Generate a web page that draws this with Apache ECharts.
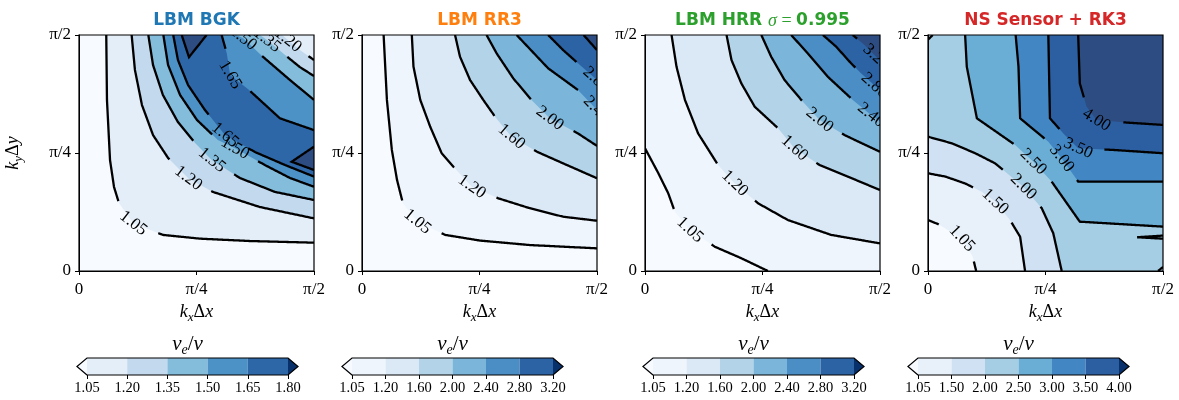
<!DOCTYPE html>
<html><head><meta charset="utf-8">
<script src="https://cdn.jsdelivr.net/npm/echarts@6/dist/echarts.min.js"></script>
<style>html,body{margin:0;padding:0;background:#fff}#c{width:1179px;height:400px}</style>
</head><body><div id="c"></div>
<script>
// ---------------- DATA ----------------
// axis coordinates are k*dx as a fraction of pi/2  (0 .. 1)
const tickVals = [0, 0.5, 1];
const tickText = ['0', 'π/4', 'π/2'];

const panelTitles = ['{b|LBM BGK}', '{b|LBM RR3}', '{b|LBM HRR }{s|σ}{m| = }{b|0.995}', '{b|NS Sensor + RK3}'];
const titleColors = ['#1f77b4', '#ff7f0e', '#2ca02c', '#d62728'];

const levelsBGK = [1.05, 1.20, 1.35, 1.50, 1.65, 1.80];
const levelsRR3 = [1.05, 1.20, 1.60, 2.00, 2.40, 2.80, 3.20];
const levelsHRR = [1.05, 1.20, 1.60, 2.00, 2.40, 2.80, 3.20];
const levelsNS  = [1.05, 1.50, 2.00, 2.50, 3.00, 3.50, 4.00];

const binsBGK = ['#e4eef9', '#c2d9ee', '#84bcdc', '#4d92c6', '#2d67a8'];
const binsRR3 = ['#eef5fc', '#dbe9f6', '#b3d3e8', '#7bb6da', '#4a8ec5', '#2c63a5'];
const binsHRR = ['#eef5fc', '#dbe9f6', '#b3d3e8', '#7bb6da', '#4a8ec5', '#2c63a5'];
const binsNS  = ['#e8f1fa', '#cfe1f2', '#a5cde3', '#6aaed6', '#4287c3', '#2c5fa2'];

// contour polylines [kx, ky]
// --- LBM BGK
const bgk105 = [[0.116,1],[0.119,0.725],[0.132,0.47],[0.149,0.356],[0.17,0.288],[0.231,0.202],[0.357,0.153],[0.515,0.137],[0.728,0.127],[1,0.12]];
const bgk120 = [[0.224,1],[0.238,0.852],[0.268,0.703],[0.315,0.576],[0.379,0.479],[0.465,0.393],[0.57,0.335],[0.77,0.271],[1,0.223]];
const bgk135 = [[0.295,1],[0.315,0.873],[0.357,0.746],[0.421,0.631],[0.494,0.542],[0.565,0.47],[0.685,0.394],[0.834,0.335],[1,0.301]];
const bgk150 = [[0.359,1],[0.379,0.873],[0.43,0.746],[0.502,0.64],[0.591,0.555],[0.664,0.52],[0.791,0.449],[0.898,0.394],[1,0.357]];
const bgk165 = [[0.401,1],[0.421,0.894],[0.464,0.788],[0.536,0.682],[0.621,0.576],[0.749,0.504],[0.877,0.449],[1,0.4]];
const bgk180a = [[0.437,1],[0.468,0.906],[0.543,1]];
const bgk180b = [[1,0.527],[0.905,0.463],[1,0.428]];
const bgk165b = [[0.607,1],[0.629,0.922],[0.643,0.831],[0.72,0.77],[0.855,0.647],[1,0.597]];
const bgk150b = [[0.668,1],[0.698,0.987],[0.779,0.911],[0.898,0.809],[1,0.725]];
const bgk135b = [[0.77,1],[0.8,0.979],[0.877,0.915],[0.94,0.864],[1,0.826]];
const bgk120b = [[0.864,1],[0.889,0.979],[0.94,0.936],[1,0.894]];
// --- LBM RR3
const rr105 = [[0.092,1],[0.106,0.725],[0.127,0.513],[0.149,0.386],[0.174,0.287],[0.236,0.209],[0.354,0.153],[0.502,0.129],[0.714,0.11],[1,0.096]];
const rr120 = [[0.212,1],[0.219,0.866],[0.248,0.725],[0.29,0.612],[0.339,0.499],[0.389,0.442],[0.467,0.357],[0.58,0.308],[0.714,0.266],[0.856,0.23],[1,0.213]];
const rr160 = [[0.396,1],[0.417,0.908],[0.46,0.809],[0.516,0.725],[0.566,0.654],[0.636,0.569],[0.743,0.506],[0.856,0.456],[1,0.393]];
const rr200 = [[0.53,1],[0.573,0.922],[0.644,0.816],[0.721,0.725],[0.799,0.647],[0.919,0.583],[1,0.53]];
const rr240 = [[0.658,1],[0.792,0.859],[0.919,0.767],[1,0.682]];
const rr280 = [[0.792,1],[0.856,0.936],[0.919,0.88],[1,0.809]];
const rr320 = [[0.943,1],[1,0.936]];
// --- LBM HRR
const hr105 = [[0,0.52],[0.057,0.414],[0.099,0.329],[0.127,0.251],[0.191,0.174],[0.297,0.103],[0.41,0.054],[0.523,0]];
const hr120 = [[0.113,1],[0.134,0.866],[0.17,0.725],[0.226,0.583],[0.311,0.449],[0.382,0.371],[0.481,0.287],[0.608,0.216],[0.792,0.153],[1,0.117]];
const hr160 = [[0.347,1],[0.368,0.894],[0.41,0.795],[0.467,0.696],[0.566,0.605],[0.636,0.52],[0.743,0.449],[0.863,0.4],[1,0.343]];
const hr200 = [[0.495,1],[0.537,0.908],[0.594,0.809],[0.665,0.725],[0.743,0.64],[0.849,0.576],[1,0.505]];
const hr240 = [[0.622,1],[0.693,0.922],[0.778,0.823],[0.884,0.725],[0.962,0.661],[1,0.633]];
const hr280 = [[0.757,1],[0.813,0.951],[0.877,0.88],[0.919,0.838],[0.983,0.781],[1,0.767]];
const hr320 = [[0.884,1],[0.934,0.958],[0.99,0.901],[1,0.894]];
// --- NS Sensor + RK3
const ns105 = [[0,0.216],[0.042,0.199],[0.144,0.138],[0.19,0.061],[0.205,0]];
const ns150 = [[0,0.414],[0.074,0.4],[0.158,0.371],[0.229,0.336],[0.286,0.294],[0.349,0.216],[0.392,0.145],[0.413,0]];
const ns200 = [[0,0.569],[0.102,0.541],[0.201,0.499],[0.286,0.456],[0.406,0.357],[0.484,0.266],[0.533,0.16],[0.569,0]];
const ns250 = [[0.158,1],[0.165,0.866],[0.208,0.647],[0.371,0.534],[0.448,0.463],[0.526,0.379],[0.646,0.209],[1,0.188]];
const ns300 = [[0.373,1],[0.385,0.866],[0.392,0.647],[0.512,0.548],[0.569,0.477],[0.639,0.379],[1,0.379]];
const ns350 = [[0.512,1],[0.516,0.795],[0.519,0.647],[0.576,0.583],[0.639,0.52],[0.788,0.513],[1,0.499]];
const ns400 = [[0.639,1],[0.646,0.795],[0.675,0.696],[0.717,0.64],[0.844,0.629],[1,0.619]];
const nsLens = [[1,0.15],[0.89,0.143],[1,0.137]];
const nsCornerBR = [[0.979,0],[1,0.017]];
const nsCornerTL = [[0,0.98],[0.02,1]];

// region closures (corners of the domain)
const TR = [[1,1]];
const BRTL = [[1,0],[1,1],[0,1]];

// ---------------- BUILD ----------------
function C(lv, dir, pts, lab, close, fill) { return {lv, dir, pts, lab, close, fill: fill !== false}; }
const contoursBGK = [
  C(0, 1, bgk105, [0.231,0.202], TR), C(1, 1, bgk120, [0.465,0.393], TR), C(2, 1, bgk135, [0.565,0.47], TR),
  C(3, 1, bgk150, [0.664,0.52], TR), C(4, 1, bgk165, [0.621,0.576], TR),
  C(5, 1, bgk180a, null, []), C(5, 1, bgk180b, null, []),
  C(4, -1, bgk165b, [0.643,0.831], TR), C(3, -1, bgk150b, [0.698,0.987], TR),
  C(2, -1, bgk135b, [0.8,0.979], TR), C(1, -1, bgk120b, [0.889,0.979], TR)
];
const contoursRR3 = [
  C(0, 1, rr105, [0.236,0.209], TR), C(1, 1, rr120, [0.467,0.357], TR), C(2, 1, rr160, [0.636,0.569], TR),
  C(3, 1, rr200, [0.799,0.647], TR), C(4, 1, rr240, [0.995,0.685], TR), C(5, 1, rr280, [0.995,0.812], TR),
  C(6, 1, rr320, null, TR)
];
const contoursHRR = [
  C(0, 1, hr105, [0.191,0.174], BRTL), C(1, 1, hr120, [0.382,0.371], TR), C(2, 1, hr160, [0.636,0.52], TR),
  C(3, 1, hr200, [0.743,0.64], TR), C(4, 1, hr240, [0.962,0.661], TR), C(5, 1, hr280, [0.976,0.785], TR),
  C(6, 1, hr320, [0.985,0.905], TR)
];
const contoursNS = [
  C(0, 1, ns105, [0.144,0.138], BRTL), C(1, 1, ns150, [0.286,0.294], BRTL), C(2, 1, ns200, [0.406,0.357], BRTL),
  C(3, 1, ns250, [0.448,0.463], TR), C(4, 1, ns300, [0.569,0.477], TR), C(5, 1, ns350, [0.639,0.52], TR),
  C(6, 1, ns400, [0.717,0.64], TR),
  C(3, -1, nsLens, null, [], false), C(3, -1, nsCornerBR, null, [], false), C(3, -1, nsCornerTL, null, [], false)
];

const panels = [
  {levels: levelsBGK, bins: binsBGK, contours: contoursBGK},
  {levels: levelsRR3, bins: binsRR3, contours: contoursRR3},
  {levels: levelsHRR, bins: binsHRR, contours: contoursHRR},
  {levels: levelsNS,  bins: binsNS,  contours: contoursNS}
];

const UNDER = '#f7fbff', OVER = '#08306b', PLOT_OVER = '#2d4d82';
const plotLefts = [79, 362, 645, 928], PW = 235, PH = 236, PT = 35;
const cbLefts = [87, 352, 653, 918], CBW = 201, CBT = 358, CBH = 17;
const SERIF = '"Liberation Serif", "DejaVu Serif", serif';
const LFS = 17; // contour label font size

function fillColor(p, c) {
  const nb = p.bins.length;
  if (c.dir > 0) return c.lv < nb ? p.bins[c.lv] : PLOT_OVER;
  return c.lv > 0 ? p.bins[c.lv - 1] : UNDER;
}
function densify(px) {
  const out = [{x: px[0][0], y: px[0][1], s: 0}]; let s = 0;
  for (let i = 1; i < px.length; i++) {
    const x0 = px[i-1][0], y0 = px[i-1][1], x1 = px[i][0], y1 = px[i][1];
    const L = Math.hypot(x1 - x0, y1 - y0), n = Math.max(1, Math.ceil(L));
    for (let k = 1; k <= n; k++) { const t = k / n; out.push({x: x0 + (x1-x0)*t, y: y0 + (y1-y0)*t, s: s + L*t}); }
    s += L;
  }
  return out;
}
function pointAt(d, s) {
  if (s <= 0) return d[0];
  if (s >= d[d.length-1].s) return d[d.length-1];
  for (let i = 1; i < d.length; i++) if (d[i].s >= s) return d[i];
  return d[d.length-1];
}
function textW(t, fs) { let w = 0; for (const ch of t) w += (ch === '.') ? 0.27 : 0.5; return w * fs; }

const richSerif = {
  i: {fontFamily: SERIF, fontStyle: 'italic', fontSize: 18, color: '#000', lineHeight: 23},
  n: {fontFamily: SERIF, fontSize: 18, color: '#000', lineHeight: 23},
  s: {fontFamily: SERIF, fontStyle: 'italic', fontSize: 13, color: '#000', verticalAlign: 'bottom', lineHeight: 23}
};

const grids = [], xAxes = [], yAxes = [], series = [], graphics = [];
panels.forEach((p, i) => {
  const gp = 2 * i, gc = 2 * i + 1;
  grids.push({left: plotLefts[i], top: PT, width: PW, height: PH, show: true, backgroundColor: UNDER, borderWidth: 0});
  xAxes.push({gridIndex: gp, type: 'value', min: 0, max: 1, interval: 0.5,
    name: '{i|k}{s|x}{n|Δ}{i|x}', nameLocation: 'middle', nameGap: 30,
    nameTextStyle: {rich: richSerif},
    axisLine: {show: true, onZero: false, lineStyle: {color: '#000', width: 1}},
    axisTick: {show: true, length: 4, lineStyle: {color: '#000'}},
    axisLabel: {margin: 10, color: '#000', fontFamily: SERIF, fontSize: 17, formatter: v => tickText[tickVals.indexOf(v)]},
    splitLine: {show: false}, z: 5});
  yAxes.push({gridIndex: gp, type: 'value', min: 0, max: 1, interval: 0.5,
    name: i === 0 ? '{i|k}{s|y}{n|Δ}{i|y}' : '', nameLocation: 'middle', nameGap: 54, nameRotate: 90,
    nameTextStyle: {rich: richSerif},
    axisLine: {show: true, onZero: false, lineStyle: {color: '#000', width: 1}},
    axisTick: {show: true, length: 4, lineStyle: {color: '#000'}},
    axisLabel: {margin: 8, color: '#000', fontFamily: SERIF, fontSize: 17, formatter: v => tickText[tickVals.indexOf(v)]},
    splitLine: {show: false}, z: 5});
  // filled regions
  series.push({type: 'custom', xAxisIndex: gp, yAxisIndex: gp, clip: true, z: 1, silent: true,
    data: p.contours.map((c, j) => [j]),
    renderItem: (params, api) => {
      const c = p.contours[api.value(0)];
      if (!c.fill) return null;
      const pts = c.pts.concat(c.close).map(q => api.coord(q));
      return {type: 'polygon', shape: {points: pts}, style: {fill: fillColor(p, c)}};
    }});
  // contour lines + labels
  series.push({type: 'custom', xAxisIndex: gp, yAxisIndex: gp, clip: true, z: 3, silent: true,
    data: p.contours.map((c, j) => [j]),
    renderItem: (params, api) => {
      const c = p.contours[api.value(0)];
      const d = densify(c.pts.map(q => api.coord(q)));
      const children = [];
      let s0 = -1e9, h = 0;
      if (c.lab) {
        const lp = api.coord(c.lab);
        let best = 0, bd = 1e18;
        d.forEach((q, k) => { const dd = (q.x-lp[0])**2 + (q.y-lp[1])**2; if (dd < bd) { bd = dd; best = k; } });
        const txt = p.levels[c.lv].toFixed(2);
        const w = textW(txt, LFS);
        s0 = d[best].s; h = w / 2 + 11;
        const a = pointAt(d, s0 - h), b = pointAt(d, s0 + h);
        let th = Math.atan2(b.y - a.y, b.x - a.x);
        if (th > Math.PI/2) th -= Math.PI; if (th < -Math.PI/2) th += Math.PI;
        children.push({type: 'text', x: d[best].x, y: d[best].y, rotation: -th, z2: 5,
          style: {text: txt, fill: '#000', font: LFS + 'px ' + SERIF, align: 'center', verticalAlign: 'middle',
                  textAlign: 'center', textVerticalAlign: 'middle'}});
      }
      let run = [];
      const flush = () => { if (run.length > 1) children.push({type: 'polyline', shape: {points: run}, style: {stroke: '#000', lineWidth: 2.3, fill: 'none'}}); run = []; };
      d.forEach(q => { if (Math.abs(q.s - s0) > h) run.push([q.x, q.y]); else flush(); });
      flush();
      return {type: 'group', children};
    }});
  // frame
  series.push({type: 'custom', xAxisIndex: gp, yAxisIndex: gp, clip: false, z: 6, silent: true, data: [[0]],
    renderItem: (params, api) => {
      const a = api.coord([0, 0]), b = api.coord([1, 1]);
      return {type: 'rect', shape: {x: a[0], y: b[1], width: b[0]-a[0], height: a[1]-b[1]}, style: {fill: 'none', stroke: '#000', lineWidth: 1.2}};
    }});
  // title
  graphics.push({type: 'text', x: plotLefts[i] + PW/2, y: 21, z: 10,
    style: {text: panelTitles[i], align: 'center', verticalAlign: 'middle',
      rich: {b: {fill: titleColors[i], fontFamily: '"DejaVu Sans", sans-serif', fontWeight: 'bold', fontSize: 17},
             s: {fill: titleColors[i], fontFamily: SERIF, fontStyle: 'italic', fontSize: 18},
             m: {fill: titleColors[i], fontFamily: SERIF, fontSize: 18}}}});

  // ---- colorbar
  const nb = p.bins.length, ext = 0.05 * nb;
  const cbLabels = p.levels.map(v => v.toFixed(2));
  grids.push({left: cbLefts[i], top: CBT, width: CBW, height: CBH});
  xAxes.push({gridIndex: gc, type: 'value', min: 0, max: nb, interval: 1,
    axisLine: {show: false}, axisTick: {show: true, length: 4, lineStyle: {color: '#000'}},
    axisLabel: {margin: 6, color: '#000', fontFamily: SERIF, fontSize: 14.5, formatter: v => cbLabels[Math.round(v)]},
    splitLine: {show: false}});
  yAxes.push({gridIndex: gc, type: 'value', min: 0, max: 1, show: false});
  series.push({type: 'custom', xAxisIndex: gc, yAxisIndex: gc, silent: true, z: 2,
    data: p.bins.map((c, k) => [k]),
    renderItem: (params, api) => {
      const k = api.value(0), a = api.coord([k, 0]), b = api.coord([k + 1, 1]);
      return {type: 'rect', shape: {x: a[0], y: b[1], width: b[0]-a[0], height: a[1]-b[1]}, style: {fill: p.bins[k]}};
    }});
  series.push({type: 'custom', xAxisIndex: gc, yAxisIndex: gc, silent: true, z: 3, data: [[0]],
    renderItem: (params, api) => {
      const c = q => api.coord(q);
      const outline = [c([0,0]), c([-ext,0.5]), c([0,1]), c([nb,1]), c([nb+ext,0.5]), c([nb,0])];
      return {type: 'group', children: [
        {type: 'polygon', shape: {points: [c([0,0]), c([-ext,0.5]), c([0,1])]}, style: {fill: UNDER}},
        {type: 'polygon', shape: {points: [c([nb,0]), c([nb+ext,0.5]), c([nb,1])]}, style: {fill: OVER}},
        {type: 'polygon', shape: {points: outline}, style: {fill: 'none', stroke: '#000', lineWidth: 1.2}}
      ]};
    }});
  graphics.push({type: 'text', x: cbLefts[i] + CBW/2, y: 344, z: 10,
    style: {text: '{i|ν}{s|e}{n|/}{i|ν}', align: 'center', verticalAlign: 'middle',
      rich: {i: {fill: '#000', fontFamily: SERIF, fontStyle: 'italic', fontSize: 21, lineHeight: 26},
             n: {fill: '#000', fontFamily: SERIF, fontSize: 21, lineHeight: 26},
             s: {fill: '#000', fontFamily: SERIF, fontStyle: 'italic', fontSize: 14, verticalAlign: 'bottom', lineHeight: 26}}}});
});

const chart = echarts.init(document.getElementById('c'), null, {renderer: 'canvas'});
chart.setOption({
  animation: false, backgroundColor: '#fff',
  grid: grids, xAxis: xAxes, yAxis: yAxes, series, graphic: graphics
});
</script></body></html>
